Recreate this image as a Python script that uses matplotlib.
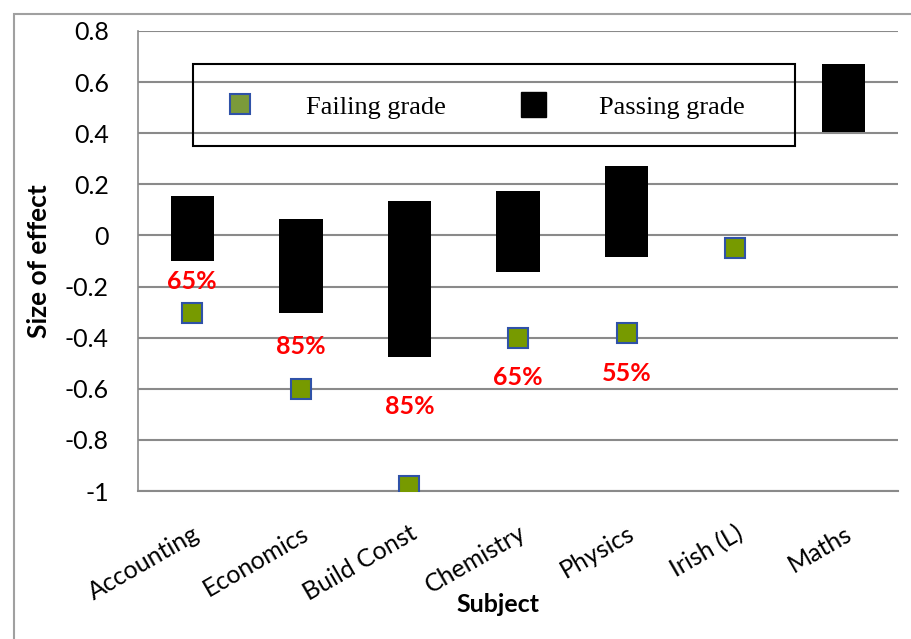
import numpy as np
import matplotlib.pyplot as plt
from matplotlib.lines import Line2D
from matplotlib.patches import Rectangle

subjects = ["Accounting", "Economics", "Build Const", "Chemistry", "Physics", "Irish (L)", "Maths"]
pass_low = [-0.10, -0.303, -0.475, -0.142, -0.083, np.nan, 0.403]
pass_high = [0.155, 0.065, 0.135, 0.175, 0.272, np.nan, 0.671]
failing = [-0.305, -0.60, -0.98, -0.40, -0.38, -0.048, np.nan]
pct_labels = ["65%", "85%", "85%", "65%", "55%"]
pct_y = [-0.182, -0.433, -0.669, -0.555, -0.539]

plt.rcParams['font.family'] = ['Lato', 'DejaVu Sans']

fig = plt.figure(figsize=(9.12, 6.39), dpi=100)
ax = fig.add_axes([0.1513, 0.2316, 0.8333, 0.7199])

x = np.arange(len(subjects))
low = np.array(pass_low)
high = np.array(pass_high)
ax.bar(x, high - low, bottom=low, width=0.4, color='black', zorder=3)
ax.plot(x, failing, linestyle='none', marker='s', markersize=14,
        markerfacecolor='#779A00', markeredgecolor='#2F52A8', markeredgewidth=1.5, zorder=4)

for i, (lab, yy) in enumerate(zip(pct_labels, pct_y)):
    ax.text(x[i], yy, lab, color='red', fontsize=18, fontweight='bold',
            ha='center', va='center', zorder=5)

ax.set_xlim(-0.5, len(subjects) - 0.5)
ax.set_ylim(-1, 0.8)
ax.set_yticks(np.arange(-1, 0.81, 0.2))
ax.set_yticklabels(['-1', '-0.8', '-0.6', '-0.4', '-0.2', '0', '0.2', '0.4', '0.6', '0.8'])
ax.set_xticks(x)
ax.set_xticklabels(subjects, rotation=30, ha='right', rotation_mode='anchor')
ax.tick_params(axis='y', length=0, labelsize=18, pad=21)
ax.tick_params(axis='x', length=0, labelsize=18, pad=22)

ax.grid(axis='y', color='#8a8a8a', linewidth=1.5, zorder=0)
ax.set_axisbelow(True)
for s in ['top', 'right']:
    ax.spines[s].set_visible(False)
ax.spines['left'].set_color('#8a8a8a')
ax.spines['bottom'].set_color('#8a8a8a')
ax.spines['left'].set_linewidth(1.2)
ax.spines['bottom'].set_linewidth(1.5)

ax.set_ylabel('Size of effect', fontsize=19, fontweight='bold')
ax.yaxis.set_label_coords(-0.1145, 0.5)
ax.set_xlabel('Subject', fontsize=18, fontweight='bold')
ax.xaxis.set_label_coords(0.474, -0.222)

handles = [
    Line2D([], [], linestyle='none', marker='s', markersize=15,
           markerfacecolor='#7B9A3A', markeredgecolor='#2F52A8', markeredgewidth=1.5),
    Line2D([], [], linestyle='none', marker='s', markersize=18, color='black'),
]
leg = ax.legend(handles, ['Failing grade', 'Passing grade'], ncol=2,
                loc='upper left', bbox_to_anchor=(0.072, 0.918),
                prop={'family': 'Liberation Serif', 'size': 19},
                frameon=False, borderpad=1.0, handlelength=1.6,
                handletextpad=1.7, columnspacing=2.5, borderaxespad=0)
leg.set_zorder(6)
ax.add_patch(Rectangle((0.072, 0.749), 0.792, 0.179, transform=ax.transAxes,
                       fill=False, edgecolor='black', linewidth=1.5, zorder=6))

fig.patches.append(Rectangle((14 / 912, -0.05), 1.2, 1.05 - 14 / 639,
                             transform=fig.transFigure, fill=False,
                             edgecolor='#a0a0a0', linewidth=1.5))

fig.savefig('out.png', dpi=100)
